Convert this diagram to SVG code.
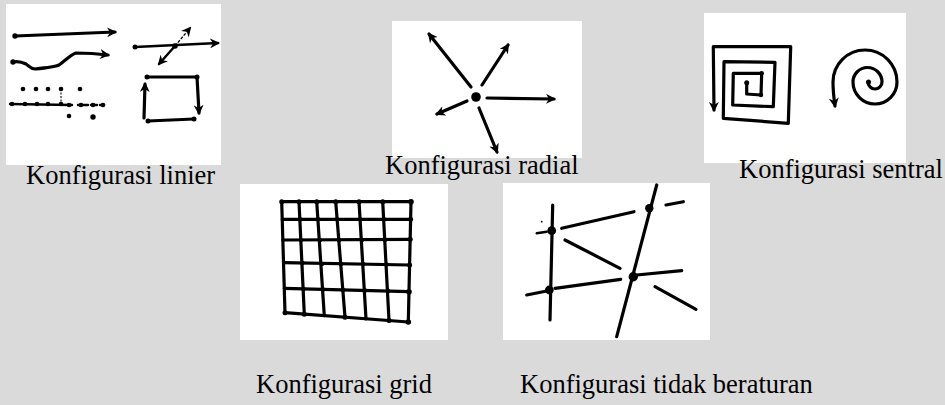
<svg xmlns="http://www.w3.org/2000/svg" width="945" height="405" viewBox="0 0 945 405">
<style>
.bg{fill:#dadada}
.box{fill:#ffffff}
.ln{fill:none;stroke:#000;stroke-width:3.2;stroke-linecap:round;stroke-linejoin:round}
.th{fill:none;stroke:#000;stroke-width:2.4;stroke-linecap:round;stroke-linejoin:round}
.tn{fill:none;stroke:#000;stroke-width:1.1;stroke-dasharray:2 1.5}
.dot{fill:#000}
.lbl{font-family:"Liberation Serif","Times New Roman",serif;font-size:26.5px;fill:#000}
</style>
<defs>
<marker id="ah" viewBox="0 0 10 10" refX="8" refY="5" markerWidth="10" markerHeight="10" markerUnits="userSpaceOnUse" orient="auto-start-reverse">
<path d="M0,0 L10,5 L0,10 L3,5 z" fill="#000"/>
</marker>
</defs>
<rect class="bg" x="0" y="0" width="945" height="405"/>

<g id="linier">
<rect class="box" x="6" y="4" width="215" height="161"/>
<path class="ln" d="M15,36 L115,32" marker-end="url(#ah)"/>
<circle class="dot" cx="15" cy="36" r="2.7"/>
<path class="ln" d="M13,62 C18,61 22,62 26,64 C30,67 31,69 35,69 C45,68 55,67 59,65 C65,61 70,55 76,53 C85,53 100,54 108,55" marker-end="url(#ah)"/>
<circle class="dot" cx="13" cy="62" r="2.7"/>
<path class="th" d="M10,104 L72,105 M78,105 L88,105 M91,105 L97,105 M100,105 L104,105"/>
<g class="dot">
<circle cx="12" cy="104" r="2.3"/><circle cx="25" cy="104" r="2.3"/><circle cx="37" cy="104" r="2.3"/><circle cx="48" cy="104" r="2.3"/><circle cx="61" cy="104" r="2.3"/><circle cx="69" cy="105" r="2.3"/><circle cx="81" cy="105" r="2.3"/><circle cx="93" cy="105" r="2.3"/><circle cx="103" cy="105" r="2.3"/>
<circle cx="23" cy="89" r="2.3"/><circle cx="36" cy="89" r="2.3"/><circle cx="48" cy="89" r="2.3"/><circle cx="61" cy="89" r="2.3"/><circle cx="80" cy="89" r="2.3"/>
<circle cx="69" cy="116" r="2.3"/><circle cx="93" cy="117" r="2.7"/>
</g>
<path class="tn" d="M61,89 L61,104"/>
<path class="th" d="M135,47 L218,43" marker-end="url(#ah)"/>
<circle class="dot" cx="135" cy="47" r="2.5"/>
<circle class="dot" cx="175" cy="46" r="2.8"/>
<path class="th" d="M175,46 L159,64" marker-end="url(#ah)"/>
<path class="tn" d="M175,46 L190,28" marker-end="url(#ah)" style="stroke-dasharray:3 1.5;stroke-width:1.3"/>
<path class="ln" d="M147,77 L197,77"/>
<path class="ln" d="M197,77 L199,113" marker-end="url(#ah)"/>
<path class="ln" d="M194,119 L148,121"/>
<path class="ln" d="M144,118 L145,84" marker-end="url(#ah)"/>
<g class="dot"><circle cx="147" cy="77" r="2.5"/><circle cx="197" cy="77" r="2.5"/><circle cx="148" cy="121" r="2.5"/><circle cx="194" cy="119" r="2.5"/></g>
</g>

<g id="radial">
<rect class="box" x="392" y="21" width="190" height="137"/>
<circle class="dot" cx="476" cy="97" r="4.8"/>
<path class="ln" d="M471,87 L429,34" marker-end="url(#ah)"/>
<path class="ln" d="M482,85 L508,45" marker-end="url(#ah)"/>
<path class="ln" d="M487,98 L554,99" marker-end="url(#ah)"/>
<path class="ln" d="M467,101 L437,114" marker-end="url(#ah)"/>
<path class="ln" d="M479,108 L497,152" marker-end="url(#ah)"/>
</g>

<g id="sentral">
<rect class="box" x="704" y="13" width="202" height="150"/>
<path class="ln" d="M746.7,82.7 L746.7,94 L761,95 L761.7,73.3 L733.3,73.3 L732.7,105 L773.3,106.7 L775,62.3 L724,61.7 L723.3,118.3 L788.3,123.3 L790.7,46.7 L713.3,46.7 L714,110" marker-end="url(#ah)"/>
<circle class="dot" cx="746.7" cy="82.7" r="2.5"/>
<circle class="dot" cx="761.7" cy="73.3" r="2.2"/>
<circle class="dot" cx="761" cy="95" r="2.2"/>
<path class="ln" d="M868,82 A7,7 0 0 0 882,82 A14.5,14.5 0 0 0 853,82 A22,22 0 0 0 897,82 A32,32 0 0 0 833,82 C833,92 834,99 835,106" marker-end="url(#ah)"/>
<circle class="dot" cx="868.5" cy="82" r="2.5"/>
</g>

<g id="grid">
<rect class="box" x="240" y="184" width="208" height="156"/>
<path class="ln" d="M281.7,201.7 L411,201.7 M282.2,219.3 L410.6,219.3 M282.9,240 L410.2,239.3 M283.6,262.7 L409.6,265 M284.3,288.3 L409,291.7 M285,312.7 L408.3,322"/>
<path class="ln" d="M281.7,201.7 L285,312.7 M299,201.7 L304.3,314.2 M316.7,201.7 L324.3,315.7 M335.7,201.7 L345,317.2 M359,201.7 L366,318.8 M382.7,201.7 L389,320.5 M411,201.7 L408.3,322"/>
<g class="dot">
<circle cx="281.7" cy="201.7" r="2.5"/><circle cx="299" cy="201.7" r="2.5"/><circle cx="316.7" cy="201.7" r="2.5"/><circle cx="335.7" cy="201.7" r="2.5"/><circle cx="359" cy="201.7" r="2.5"/><circle cx="382.7" cy="201.7" r="2.5"/><circle cx="411" cy="201.7" r="2.8"/>
<circle cx="410.6" cy="219.3" r="2.5"/><circle cx="410.2" cy="239.3" r="2.5"/><circle cx="409.6" cy="265" r="2.5"/><circle cx="409" cy="291.7" r="2.8"/><circle cx="408.3" cy="322" r="2.8"/>
<circle cx="285" cy="312.7" r="2.5"/><circle cx="304.3" cy="314.2" r="2.5"/><circle cx="345" cy="317.2" r="2.5"/><circle cx="389" cy="320.5" r="2.5"/>
<circle cx="300" cy="219.3" r="2.2"/><circle cx="318" cy="219.3" r="2.2"/><circle cx="337" cy="219.3" r="2.2"/><circle cx="360" cy="219.3" r="2.2"/><circle cx="384" cy="219.3" r="2.2"/>
<circle cx="301" cy="240" r="2.2"/><circle cx="320" cy="240" r="2.2"/><circle cx="339" cy="240" r="2.2"/><circle cx="362" cy="240" r="2.2"/><circle cx="385" cy="240" r="2.2"/>
<circle cx="302.5" cy="263" r="2.2"/><circle cx="322" cy="264" r="2.2"/><circle cx="341" cy="264" r="2.2"/><circle cx="363" cy="264" r="2.2"/><circle cx="386.5" cy="264.5" r="2.2"/>
<circle cx="303.5" cy="289" r="2.2"/><circle cx="323" cy="289.5" r="2.2"/><circle cx="343" cy="290" r="2.2"/><circle cx="365" cy="290.5" r="2.2"/><circle cx="388" cy="291" r="2.2"/>
</g>
</g>

<g id="tidak">
<rect class="box" x="503" y="183" width="207" height="157"/>
<path class="ln" d="M552.7,205 L550,320"/>
<path class="th" d="M536.7,233.3 L546.7,231.7"/>
<path class="ln" d="M561.7,228.3 L634,211.7"/>
<path class="ln" d="M656.7,185 L616.7,336.7"/>
<path class="ln" d="M666,205 L683.3,201.7"/>
<path class="ln" d="M565,240 L620,268.3"/>
<path class="ln" d="M526.7,295 L546.7,291 M555,288.3 L620.7,279.3"/>
<path class="ln" d="M636.7,275 L681.7,270.7"/>
<path class="ln" d="M655,286.7 L696,309.3"/>
<circle class="dot" cx="541.7" cy="221.7" r="0.9"/>
<g class="dot">
<circle cx="551.7" cy="230.7" r="4.4"/><circle cx="549.3" cy="290" r="4.4"/><circle cx="649.3" cy="208.3" r="4.2"/><circle cx="633.3" cy="276.7" r="4.7"/>
</g>
</g>

<g id="labels">
<text class="lbl" x="26" y="184">Konfigurasi linier</text>
<text class="lbl" x="385" y="174">Konfigurasi radial</text>
<text class="lbl" x="739" y="178">Konfigurasi sentral</text>
<text class="lbl" x="256" y="393">Konfigurasi grid</text>
<text class="lbl" x="520" y="393">Konfigurasi tidak beraturan</text>
</g>
</svg>
